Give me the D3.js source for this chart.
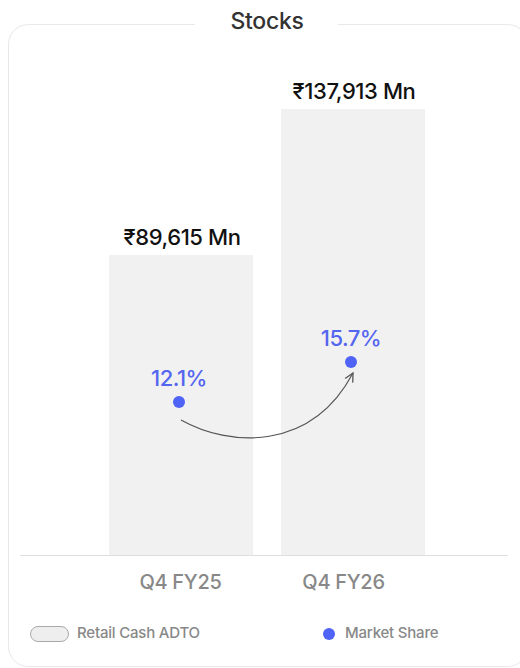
<!DOCTYPE html>
<html>
<head>
<meta charset="utf-8">
<script src="https://cdn.jsdelivr.net/npm/d3@7"></script>
<style>
  body { margin: 0; background: #fff; font-family: Inter, "Noto Sans", sans-serif; }
</style>
</head>
<body>
<div id="chart"></div>
<script>
// Data
const quarters = ["Q4 FY25", "Q4 FY26"];
const adtoValues = [89615, 137913];
const adtoLabels = ["₹89,615 Mn", "₹137,913 Mn"];
const marketShare = [12.1, 15.7];
const shareLabels = ["12.1%", "15.7%"];

const width = 520, height = 668;
const baseY = 555;

const svg = d3.select("#chart").append("svg")
    .attr("width", width)
    .attr("height", height);

// Card border with title gap
svg.append("rect")
    .attr("x", 8.5).attr("y", 24.5)
    .attr("width", 519).attr("height", 642)
    .attr("rx", 20)
    .attr("fill", "none")
    .attr("stroke", "#e8e8e8");

svg.append("rect")
    .attr("x", 195).attr("y", 18)
    .attr("width", 143).attr("height", 14)
    .attr("fill", "#fff");

svg.append("text")
    .attr("x", 267).attr("y", 29)
    .attr("text-anchor", "middle")
    .style("font-size", "23px")
    .style("font-weight", 500)
    .style("letter-spacing", "-0.3px")
    .attr("fill", "#333")
    .text("Stocks");

// Scales
const x = d3.scaleBand()
    .domain(quarters)
    .range([95, 439])
    .paddingInner(0.163)
    .paddingOuter(0.0815);

const y = d3.scaleLinear()
    .domain([-9600, 150000])
    .range([baseY, 72.4]);

const y2 = d3.scaleLinear()
    .domain([0, 20])
    .range([536.4, 314.2]);

// Bars
svg.selectAll(".bar")
    .data(quarters)
    .enter()
    .append("rect")
    .attr("class", "bar")
    .attr("x", d => x(d))
    .attr("y", (d, i) => y(adtoValues[i]))
    .attr("width", x.bandwidth())
    .attr("height", (d, i) => baseY - y(adtoValues[i]))
    .attr("fill", "#f1f1f1");

// Bar value labels
svg.selectAll(".bar-label")
    .data(quarters)
    .enter()
    .append("text")
    .attr("x", d => x(d) + x.bandwidth() / 2 + 1)
    .attr("y", (d, i) => y(adtoValues[i]) - 10)
    .attr("text-anchor", "middle")
    .style("font-size", "22px")
    .style("font-weight", 500)
    .style("letter-spacing", "-0.4px")
    .attr("fill", "#111")
    .text((d, i) => adtoLabels[i]);

// Baseline
svg.append("line")
    .attr("x1", 20).attr("x2", 508)
    .attr("y1", baseY + 0.5).attr("y2", baseY + 0.5)
    .attr("stroke", "#dedede");

// Axis labels
const xLabel = d3.scalePoint()
    .domain(quarters)
    .range([180, 343]);

const xAxis = svg.append("g")
    .attr("transform", `translate(0,${baseY})`)
    .call(d3.axisBottom(xLabel).tickSize(0).tickPadding(20));
xAxis.select(".domain").remove();
xAxis.selectAll("text")
    .style("font-family", "Inter, 'Noto Sans', sans-serif")
    .style("font-size", "20px")
    .style("font-weight", 500)
    .style("letter-spacing", "-0.3px")
    .attr("fill", "#888");

// Arrow between market share points
svg.append("defs").append("marker")
    .attr("id", "arrow")
    .attr("viewBox", "0 0 10 10")
    .attr("refX", 9).attr("refY", 5)
    .attr("markerWidth", 9).attr("markerHeight", 9)
    .attr("orient", "auto")
  .append("path")
    .attr("d", "M1,1 L9,5 L1,9")
    .attr("fill", "none")
    .attr("stroke", "#555")
    .attr("stroke-width", 1.2);

const cx0 = x(quarters[0]) + x.bandwidth() / 2 - 2;
const cx1 = x(quarters[1]) + x.bandwidth() / 2 - 2;
const sy0 = y2(marketShare[0]);
const sy1 = y2(marketShare[1]);

svg.append("path")
    .attr("d", `M${cx0 + 2},${sy0 + 18} C${cx0 + 50},${sy0 + 45} ${cx1 - 40},${sy0 + 50} ${cx1 + 2},${sy1 + 11}`)
    .attr("fill", "none")
    .attr("stroke", "#555")
    .attr("stroke-width", 1.2)
    .attr("marker-end", "url(#arrow)");

// Market share dots and labels
svg.selectAll(".dot")
    .data(quarters)
    .enter()
    .append("circle")
    .attr("cx", d => x(d) + x.bandwidth() / 2 - 2)
    .attr("cy", (d, i) => y2(marketShare[i]))
    .attr("r", 6)
    .attr("fill", "#4f63f7");

svg.selectAll(".share-label")
    .data(quarters)
    .enter()
    .append("text")
    .attr("x", d => x(d) + x.bandwidth() / 2 - 2)
    .attr("y", (d, i) => y2(marketShare[i]) - 16)
    .attr("text-anchor", "middle")
    .style("font-size", "22px")
    .style("font-weight", 500)
    .style("letter-spacing", "-0.5px")
    .attr("fill", "#5465f0")
    .text((d, i) => shareLabels[i]);

// Legend
svg.append("rect")
    .attr("x", 30.5).attr("y", 626.5)
    .attr("width", 38).attr("height", 15)
    .attr("rx", 7.5)
    .attr("fill", "#eeeeee")
    .attr("stroke", "#aaa");

svg.append("text")
    .attr("x", 77).attr("y", 634)
    .attr("dominant-baseline", "middle")
    .style("font-size", "15px")
    .style("font-weight", 500)
    .style("letter-spacing", "-0.2px")
    .attr("fill", "#888")
    .text("Retail Cash ADTO");

svg.append("circle")
    .attr("cx", 329).attr("cy", 634)
    .attr("r", 6)
    .attr("fill", "#4f63f7");

svg.append("text")
    .attr("x", 345).attr("y", 634)
    .attr("dominant-baseline", "middle")
    .style("font-size", "15px")
    .style("font-weight", 500)
    .style("letter-spacing", "-0.2px")
    .attr("fill", "#888")
    .text("Market Share");
</script>
</body>
</html>
